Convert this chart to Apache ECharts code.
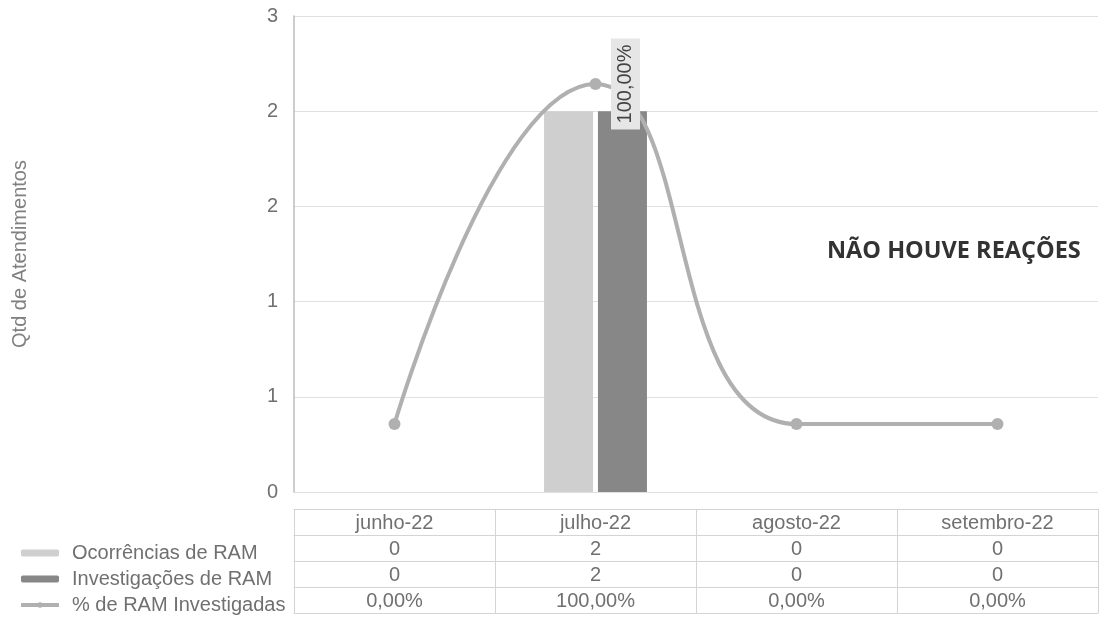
<!DOCTYPE html>
<html><head><meta charset="utf-8">
<script src="https://cdn.jsdelivr.net/npm/echarts@6/dist/echarts.min.js"></script>
<style>html,body{margin:0;padding:0;background:#fff}#c{width:1100px;height:629px}</style>
</head><body><div id="c"></div>
<script>
// ---- data ----
const categories = ['junho-22', 'julho-22', 'agosto-22', 'setembro-22'];
const ocorrencias = [0, 2, 0, 0];
const investigacoes = [0, 2, 0, 0];
const percentInvestigadas = [0, 1, 0, 0];
const yTickLabels = ['0', '1', '1', '2', '2', '3'];
const seriesNames = ['Ocorrências de RAM', 'Investigações de RAM', '% de RAM Investigadas'];
const yAxisName = 'Qtd de Atendimentos';
const noteText = 'NÃO HOUVE REAÇÕES';

// ---- helpers ----
const fmtInt = v => String(v);
const fmtPct = v => (v * 100).toFixed(2).replace('.', ',') + '%';
const FONT = 'Liberation Sans, Arial, sans-serif';
const txtC = '#707070';
const lineC = '#d4d4d4';
const ROW = 26;
const FIRST = 17;

function tableAxis(offset, formatter, showLabel) {
  return {
    type: 'category', data: categories, position: 'bottom', offset: offset,
    boundaryGap: true,
    axisLine: { show: true, onZero: false, lineStyle: { color: lineC, width: 1 } },
    axisTick: { show: showLabel, length: ROW, alignWithLabel: false, lineStyle: { color: lineC } },
    axisLabel: { show: showLabel, interval: 0, margin: 4, fontSize: 20, lineHeight: 20, color: txtC, fontFamily: FONT,
      formatter: formatter },
    splitLine: { show: false }
  };
}

const chart = echarts.init(document.getElementById('c'), null, { renderer: 'canvas' });
chart.setOption({
  animation: false,
  backgroundColor: '#ffffff',
  title: {
    text: noteText, left: 822, top: 234,
    textStyle: { fontFamily: 'Open Sans, sans-serif', fontWeight: 'bold', fontSize: 23.5, color: '#333333' }
  },
  legend: {
    orient: 'vertical', left: 14, top: 538, itemGap: 6,
    itemWidth: 38, itemHeight: 7,
    data: seriesNames,
    lineStyle: { width: 4 },
    textStyle: { fontSize: 20, lineHeight: 20, color: txtC, fontFamily: FONT, padding: [0, 0, 0, 8] }
  },
  grid: { left: 294, right: 2, top: 16, bottom: 137, containLabel: false },
  xAxis: [
    tableAxis(FIRST, (v) => v, true),
    tableAxis(FIRST + ROW, (v, i) => fmtInt(ocorrencias[i]), true),
    tableAxis(FIRST + ROW * 2, (v, i) => fmtInt(investigacoes[i]), true),
    tableAxis(FIRST + ROW * 3, (v, i) => fmtPct(percentInvestigadas[i]), true),
    tableAxis(FIRST + ROW * 4, () => '', false)
  ],
  yAxis: [
    {
      type: 'value', min: 0, max: 2.5, interval: 0.5,
      name: yAxisName, nameLocation: 'middle', nameRotate: 90, nameGap: 264,
      nameTextStyle: { fontSize: 20, color: '#808080', fontFamily: FONT },
      axisLine: { show: true, lineStyle: { color: '#bdbdbd', width: 1.5 } },
      axisTick: { show: false },
      axisLabel: { fontSize: 20, color: txtC, fontFamily: FONT, margin: 16,
        formatter: v => yTickLabels[Math.round(v / 0.5)] },
      splitLine: { show: true, lineStyle: { color: '#e0e0e0', width: 1 } }
    },
    { type: 'value', min: -0.2, max: 1.2, show: false, splitLine: { show: false } }
  ],
  series: [
    {
      name: seriesNames[0], type: 'bar', xAxisIndex: 0, yAxisIndex: 0,
      data: ocorrencias, barWidth: 49, barGap: '10%',
      itemStyle: { color: '#cfcfcf' }
    },
    {
      name: seriesNames[1], type: 'bar', xAxisIndex: 0, yAxisIndex: 0,
      data: investigacoes, barWidth: 49,
      itemStyle: { color: '#878787' }
    },
    {
      name: seriesNames[2], type: 'line', xAxisIndex: 0, yAxisIndex: 1,
      smooth: true, symbol: 'circle', symbolSize: 12,
      lineStyle: { color: '#b0b0b0', width: 4 },
      itemStyle: { color: '#b0b0b0' },
      z: 5,
      data: percentInvestigadas.map(v => v > 0 ? {
        value: v,
        label: {
          show: true, position: 'right', distance: 24, rotate: 90,
          align: 'center', verticalAlign: 'middle',
          formatter: p => fmtPct(p.value),
          fontSize: 20, color: '#444444', fontFamily: FONT,
          backgroundColor: '#e6e6e6', padding: [5, 6, 4, 6]
        }
      } : v)
    }
  ]
});
</script>
</body></html>
